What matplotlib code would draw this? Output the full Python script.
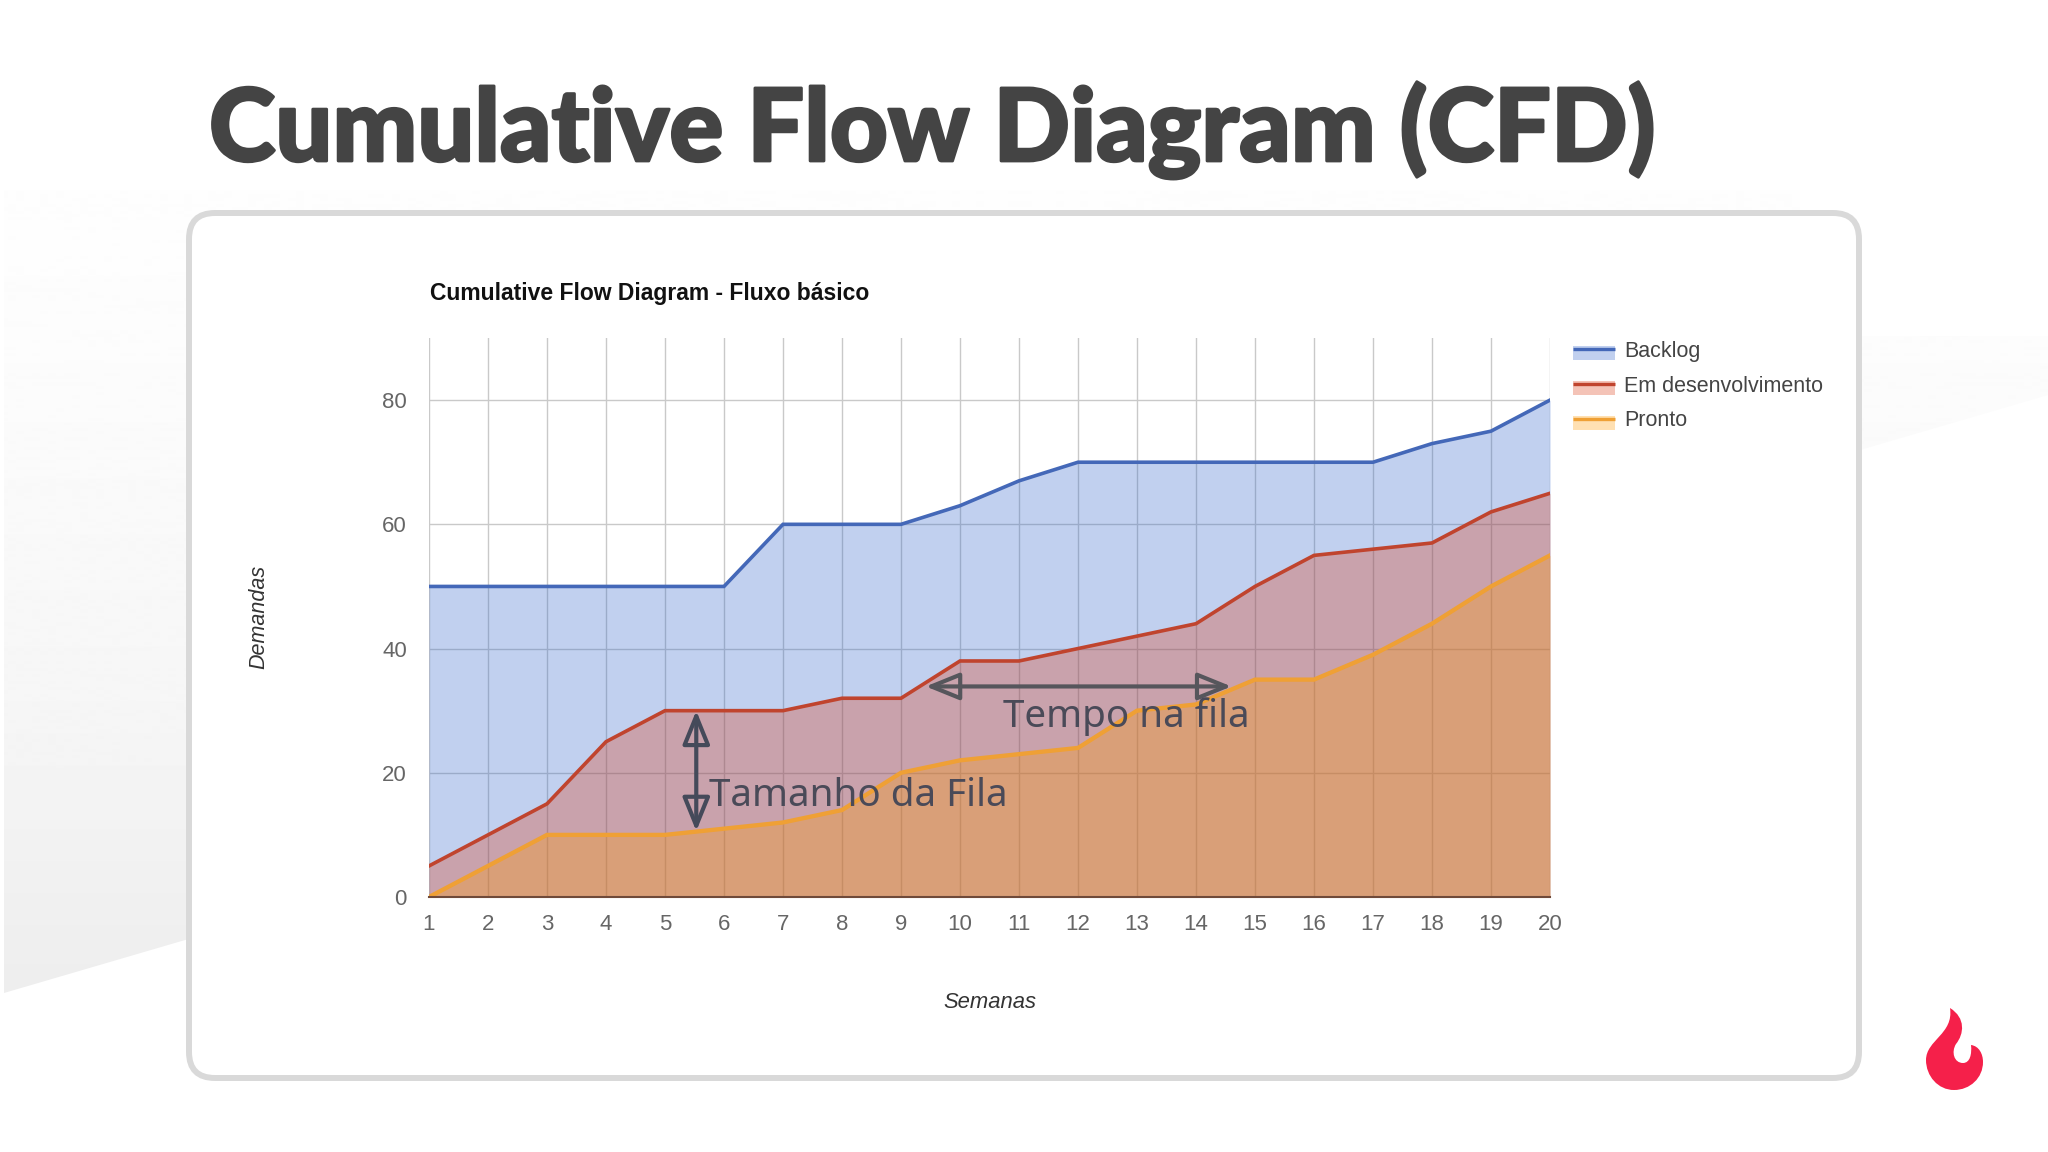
import numpy as np
import matplotlib
matplotlib.use("Agg")
import matplotlib.pyplot as plt
import matplotlib.patheffects as pe
from matplotlib.patches import FancyBboxPatch, PathPatch, Polygon, Rectangle
from matplotlib.path import Path

# ── Data ────────────────────────────────────────────────────
semanas = list(range(1, 21))
backlog = [50, 50, 50, 50, 50, 50, 60, 60, 60, 63, 67, 70, 70, 70, 70, 70, 70, 73, 75, 80]
em_dev  = [5, 10, 15, 25, 30, 30, 30, 32, 32, 38, 38, 40, 42, 44, 50, 55, 56, 57, 62, 65]
pronto  = [0, 5, 10, 10, 10, 11, 12, 14, 20, 22, 23, 24, 30, 31, 35, 35, 39, 44, 50, 55]
y_ticks = [0, 20, 40, 60, 80]

nomes = ["Backlog", "Em desenvolvimento", "Pronto"]
series = [backlog, em_dev, pronto]
cores = ["#3366cc", "#dc3912", "#ff9900"]
linhas = ["#4468b8", "#c0442e", "#efa035"]
larguras = [2.6, 2.6, 3.1]

W, H = 2048, 1152
TITULO = ["Lato", "DejaVu Sans"]
ARIAL = ["Liberation Sans", "DejaVu Sans"]
ANOTA = ["Noto Sans", "DejaVu Sans"]

fig = plt.figure(figsize=(W / 100, H / 100), dpi=100, facecolor="white")

# ── Slide background (pixel coords) ─────────────────────────
bg = fig.add_axes([0, 0, 1, 1], zorder=0)
bg.set_xlim(0, W)
bg.set_ylim(H, 0)
bg.axis("off")

ys = np.arange(170, 1001)
grad = np.interp(ys, [170, 370, 700, 930, 1000], [0.997, 0.988, 0.965, 0.937, 0.93]).reshape(-1, 1)
img = bg.imshow(grad, cmap="gray", vmin=0, vmax=1, extent=[0, W, 1000, 170], aspect="auto", zorder=0)
banda = Polygon([(4, 993), (W, 395), (W, 336), (1800, 336), (1800, 175), (4, 175)], closed=True,
                transform=bg.transData, fc="none", ec="none")
bg.add_patch(banda)
img.set_clip_path(banda)
bg.set_xlim(0, W)
bg.set_ylim(H, 0)

card = FancyBboxPatch((189 + 26, 213 + 26), 1670 - 52, 865 - 52, boxstyle="round,pad=26,rounding_size=26",
                      fc="white", ec="#d9d9d9", lw=4.3, zorder=1)
bg.add_patch(card)

# logo
verts = [(1950, 1008),
         (1966, 1018), (1964, 1034), (1956, 1044),
         (1951, 1052), (1954, 1063), (1963, 1063),
         (1970, 1063), (1972, 1054), (1971, 1045),
         (1979, 1046), (1983, 1054), (1983, 1062),
         (1983, 1078), (1970, 1090), (1954, 1090),
         (1938, 1090), (1926, 1076), (1926, 1060),
         (1926, 1040), (1954, 1034), (1950, 1008),
         (1950, 1008)]
codes = [Path.MOVETO] + [Path.CURVE4] * 21 + [Path.CLOSEPOLY]
bg.add_patch(PathPatch(Path(verts, codes), fc="#f5204a", ec="none", zorder=2))

# ── Titles ──────────────────────────────────────────────────
bg.text(209, 161, "Cumulative Flow Diagram (CFD)", family=TITULO, weight="black", fontsize=72.5,
        color="#444444", ha="left", va="baseline", zorder=3,
        path_effects=[pe.withStroke(linewidth=2.0, foreground="#444444")])
bg.text(430, 300, "Cumulative Flow Diagram - Fluxo básico", family=ARIAL, weight="bold", fontsize=16.5,
        color="#111111", ha="left", va="baseline", zorder=3)

# ── Chart ───────────────────────────────────────────────────
ax = fig.add_axes([429 / W, 1 - 897 / H, 1121 / W, 559 / H], zorder=2)
ax.patch.set_alpha(0)
for cor, linha, lw, valores in zip(cores, linhas, larguras, series):
    ax.fill_between(semanas, 0, valores, color=cor, alpha=0.3, lw=0, zorder=2)
    ax.plot(semanas, valores, color=linha, lw=lw, zorder=3, solid_joinstyle="miter")

ax.set_xlim(1, 20)
ax.set_ylim(0, 90)
ax.set_xticks(semanas)
ax.set_yticks(y_ticks)
ax.grid(True, color="#c9c9c9", lw=1.0, zorder=1)
ax.set_axisbelow(True)
for nome in ["top", "left", "right"]:
    ax.spines[nome].set_visible(False)
ax.spines["bottom"].set_color("#6f4a3a")
ax.spines["bottom"].set_linewidth(1.5)
ax.spines["bottom"].set_zorder(4)
ax.tick_params(length=0, labelsize=16, labelcolor="#666666", pad=12.5)
for lab in ax.get_xticklabels() + ax.get_yticklabels():
    lab.set_fontfamily(ARIAL)
ax.tick_params(axis="y", pad=16)

# ── Annotations ─────────────────────────────────────────────
seta = dict(arrowstyle="<|-|>,head_length=1.6,head_width=0.65", lw=3.0, fc="none",
            shrinkA=0, shrinkB=0, mutation_scale=13)
ax.annotate("", xy=(5.53, 30.0), xytext=(5.53, 10.6), arrowprops=dict(seta, ec="#454a5a"), zorder=5)
ax.annotate("", xy=(9.42, 33.9), xytext=(14.6, 33.9), arrowprops=dict(seta, ec="#56565c"), zorder=5)
bg2 = fig.add_axes([0, 0, 1, 1], zorder=3)
bg2.set_xlim(0, W)
bg2.set_ylim(H, 0)
bg2.axis("off")
bg2.text(709, 806, "Tamanho da Fila", family=ANOTA, fontsize=27.8, color="#4a4a58", va="baseline")
bg2.text(1003, 727, "Tempo na fila", family=ANOTA, fontsize=27.8, color="#4a4a58", va="baseline")

# ── Axis titles ─────────────────────────────────────────────
bg2.text(990, 1002, "Semanas", family=ARIAL, style="italic", fontsize=15.8, color="#333333", ha="center", va="center")
bg2.text(259, 617, "Demandas", family=ARIAL, style="italic", fontsize=15.5, color="#333333", ha="center", va="center",
         rotation=90)

# ── Legend ──────────────────────────────────────────────────
topos = [346, 381, 416]
for nome, cor, linha, y in zip(nomes, cores, linhas, topos):
    bg2.add_patch(Rectangle((1573, y), 42, 14, fc=cor, alpha=0.3, ec="none"))
    bg2.plot([1573, 1615], [y + 3, y + 3], color=linha, lw=2.4, solid_capstyle="butt")
    bg2.text(1624, y + 5, nome, family=ARIAL, fontsize=15.5, color="#444444", va="center")

fig.savefig("out.png", dpi=100)
